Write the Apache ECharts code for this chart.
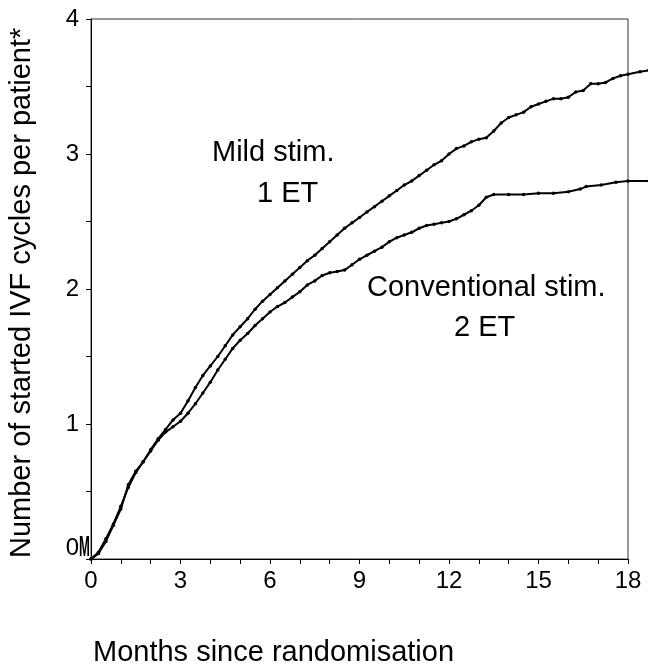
<!DOCTYPE html>
<html>
<head>
<meta charset="utf-8">
<script src="https://cdn.jsdelivr.net/npm/echarts@6/dist/echarts.min.js"></script>
<style>
html,body{margin:0;padding:0;background:#fff;}
#c{width:648px;height:667px;}
</style>
</head>
<body>
<div id="c"></div>
<script>
// ---- data ----
const mildMonths = [0,0.25,0.5,0.75,1,1.25,1.5,1.75,2,2.25,2.5,2.75,3,3.25,3.5,3.75,4,4.25,4.5,4.75,5,5.25,5.5,5.75,6,6.25,6.5,6.75,7,7.25,7.5,7.75,8,8.25,8.5,8.75,9,9.25,9.5,9.75,10,10.25,10.5,10.75,11,11.25,11.5,11.75,12,12.25,12.5,12.75,13,13.25,13.5,13.75,14,14.25,14.5,14.75,15,15.25,15.5,15.75,16,16.25,16.5,16.75,17,17.25,17.5,17.75,18,18.4,18.7];
const mildValues = [0,0.05,0.15,0.26,0.39,0.53,0.64,0.72,0.81,0.89,0.96,1.03,1.08,1.17,1.27,1.36,1.43,1.50,1.58,1.66,1.72,1.78,1.85,1.91,1.96,2.01,2.06,2.11,2.16,2.21,2.25,2.30,2.35,2.40,2.45,2.49,2.53,2.57,2.61,2.65,2.69,2.73,2.77,2.80,2.84,2.88,2.92,2.95,3.00,3.04,3.06,3.09,3.11,3.12,3.17,3.23,3.27,3.29,3.31,3.35,3.37,3.39,3.41,3.41,3.42,3.46,3.47,3.52,3.52,3.53,3.56,3.58,3.59,3.61,3.62];
const convMonths = [0,0.25,0.5,0.75,1,1.25,1.5,1.75,2,2.25,2.5,2.75,3,3.25,3.5,3.75,4,4.25,4.5,4.75,5,5.25,5.5,5.75,6,6.25,6.5,6.75,7,7.25,7.5,7.75,8,8.25,8.5,8.75,9,9.25,9.5,9.75,10,10.25,10.5,10.75,11,11.25,11.5,11.75,12,12.25,12.5,12.75,13,13.25,13.5,14,14.5,15,15.5,16,16.4,16.6,17.1,17.6,18,18.7];
const convValues = [0,0.04,0.13,0.25,0.37,0.55,0.65,0.72,0.80,0.88,0.94,0.98,1.02,1.08,1.15,1.23,1.31,1.40,1.48,1.56,1.62,1.67,1.73,1.78,1.83,1.87,1.90,1.94,1.98,2.03,2.06,2.10,2.12,2.13,2.14,2.18,2.22,2.25,2.28,2.31,2.35,2.38,2.40,2.42,2.45,2.47,2.48,2.49,2.50,2.52,2.55,2.58,2.62,2.68,2.70,2.70,2.70,2.71,2.71,2.72,2.74,2.76,2.77,2.79,2.80,2.80];
const xMin = 0, xMax = 18, xTickStep = 1, xTickLabelEvery = 3;
const yMin = 0, yMax = 4, yTickStep = 0.5, yTickLabelEvery = 1;
const xAxisTitle = 'Months since randomisation';
const yAxisTitle = 'Number of started IVF cycles per patient*';
const mildLabel = ['Mild stim.', '1 ET'];
const convLabel = ['Conventional stim.', '2 ET'];

const FONT = "'Liberation Sans', Arial, sans-serif";
const W = 648, GL = 91, GR = 20, GT = 19, GB = 108;
// data grid runs to the right edge of the page, on the same scale as the visible axis
const xMaxData = xMax * (W - GL) / (W - GL - GR);
const pair = (xs, ys) => xs.map((x, i) => [x, ys[i]]);
const isMultiple = (v, s) => Math.abs(v / s - Math.round(v / s)) < 1e-9;

const chart = echarts.init(document.getElementById('c'), null, {renderer: 'canvas'});

const lineSeries = (name, data) => ({
  name, type: 'line', data,
  xAxisIndex: 1, yAxisIndex: 1,
  clip: false,
  symbol: 'circle', symbolSize: 3.5,
  itemStyle: {color: '#000'},
  lineStyle: {color: '#000', width: 2},
  animation: false
});

const txt = (text, x, y, size, extra, align, weight) => Object.assign({
  type: 'text', x, y, silent: true,
  style: {text, font: (weight ? weight + ' ' : '') + size + 'px ' + FONT, fill: '#000',
          textAlign: align || 'left', align: align || 'left', verticalAlign: 'middle', textVerticalAlign: 'middle'}
}, extra || {});

chart.setOption({
  animation: false,
  backgroundColor: '#fff',
  grid: [
    {left: GL, right: GR, top: GT, bottom: GB, show: true, borderColor: '#333', borderWidth: 1, backgroundColor: 'transparent'},
    {left: GL, right: 0, top: GT, bottom: GB, show: false}
  ],
  xAxis: [{
    gridIndex: 0, type: 'value', min: xMin, max: xMax, interval: xTickStep,
    axisLine: {show: true, onZero: false, lineStyle: {color: '#000', width: 1}},
    axisTick: {show: true, length: 5, lineStyle: {color: '#000'}},
    axisLabel: {margin: 10, fontSize: 24, fontFamily: FONT, color: '#000',
      formatter: v => (isMultiple(v, xTickLabelEvery) ? String(v) : '')},
    splitLine: {show: false}
  }, {
    gridIndex: 1, type: 'value', min: xMin, max: xMaxData, show: false, splitLine: {show: false}
  }],
  yAxis: [{
    gridIndex: 0, type: 'value', min: yMin, max: yMax, interval: yTickStep,
    axisLine: {show: true, lineStyle: {color: '#000', width: 1}},
    axisTick: {show: true, length: 5, lineStyle: {color: '#000'}},
    axisLabel: {margin: 12, fontSize: 24, fontFamily: FONT, color: '#000',
      // the "0" label sits slightly higher in the reference; drawn below with its "M"
      formatter: v => (v !== yMin && isMultiple(v, yTickLabelEvery) ? String(v) : '')},
    splitLine: {show: false}
  }, {
    gridIndex: 1, type: 'value', min: yMin, max: yMax, show: false, splitLine: {show: false}
  }],
  series: [
    lineSeries('Mild stim. 1 ET', pair(mildMonths, mildValues)),
    lineSeries('Conventional stim. 2 ET', pair(convMonths, convValues))
  ],
  graphic: [
    txt(mildLabel[0], 212, 153, 29),
    txt(mildLabel[1], 257, 194, 29),
    txt(convLabel[0], 367, 288, 29),
    txt(convLabel[1], 454, 328, 29),
    txt(xAxisTitle, 93, 653, 29),
    txt(yAxisTitle, 22, 558, 29, {rotation: Math.PI / 2}),
    txt(String(yMin), 79, 548, 24, null, 'right'),
    txt('M', 79, 548, 29, {scaleX: 0.45}, 'left', 'bold')
  ]
});
</script>
</body>
</html>
